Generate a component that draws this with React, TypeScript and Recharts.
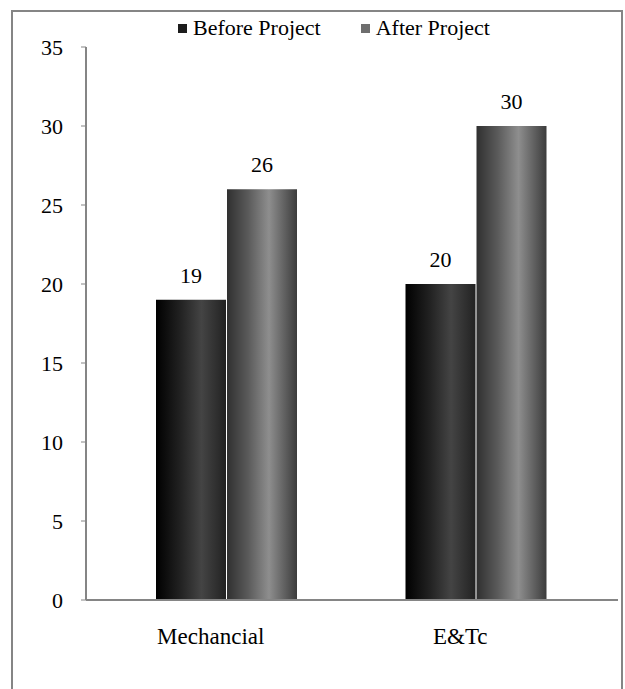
import React from 'react'
import { BarChart, Bar, XAxis, YAxis, Legend, LabelList } from 'recharts'

const categories = ['Mechancial', 'E&Tc']
const beforeProject = [19, 20]
const afterProject = [26, 30]
const yTicks = [0, 5, 10, 15, 20, 25, 30, 35]

const data = categories.map((name, i) => ({
  name,
  before: beforeProject[i],
  after: afterProject[i],
}))

const font = '"Liberation Serif", "Times New Roman", serif'

function LegendContent() {
  const items = [
    { label: 'Before Project', color: '#1c1c1c' },
    { label: 'After Project', color: '#6e6e6e' },
  ]
  return (
    <div style={{ display: 'flex', alignItems: 'center', fontFamily: font, fontSize: 22, color: '#000' }}>
      {items.map((it, i) => (
        <div key={it.label} style={{ display: 'flex', alignItems: 'center', marginRight: i === 0 ? 40 : 0 }}>
          <span style={{ display: 'inline-block', width: 9, height: 9, background: it.color, marginRight: 6 }} />
          <span>{it.label}</span>
        </div>
      ))}
    </div>
  )
}

export default function App() {
  return (
    <div style={{ position: 'absolute', left: 0, top: 0, width: 625, height: 689, background: '#fff', overflow: 'hidden' }}>
      <div
        style={{
          position: 'absolute',
          left: 11,
          top: 10,
          width: 608,
          height: 720,
          border: '2px solid #858585',
        }}
      />
      <div style={{ position: 'absolute', left: 0, top: 0 }}>
        <BarChart
          width={625}
          height={689}
          data={data}
          margin={{ top: 47, right: 7, left: 0, bottom: 0 }}
          barSize={70}
          barGap={1}
        >
          <defs>
            <linearGradient id="gBefore" x1="0" y1="0" x2="1" y2="0">
              <stop offset="0%" stopColor="#000000" />
              <stop offset="35%" stopColor="#222222" />
              <stop offset="65%" stopColor="#444444" />
              <stop offset="100%" stopColor="#222222" />
            </linearGradient>
            <linearGradient id="gAfter" x1="0" y1="0" x2="1" y2="0">
              <stop offset="0%" stopColor="#303030" />
              <stop offset="30%" stopColor="#5a5a5a" />
              <stop offset="60%" stopColor="#8e8e8e" />
              <stop offset="100%" stopColor="#3c3c3c" />
            </linearGradient>
          </defs>
          <Legend
            verticalAlign="middle"
            align="center"
            layout="horizontal"
            wrapperStyle={{ top: 15, left: 178, width: 340 }}
            content={<LegendContent />}
          />
          <XAxis
            dataKey="name"
            height={89}
            padding={{ left: 16, right: 17 }}
            tickLine={false}
            tickSize={0}
            tickMargin={28}
            axisLine={{ stroke: '#858585', strokeWidth: 2 }}
            tick={{ fill: '#000', fontSize: 23, fontFamily: font, dx: -16 }}
          />
          <YAxis
            width={86}
            domain={[0, 35]}
            ticks={yTicks}
            interval={0}
            tickSize={5}
            tickMargin={18}
            axisLine={{ stroke: '#858585', strokeWidth: 2 }}
            tickLine={{ stroke: '#858585' }}
            tick={{ fill: '#000', fontSize: 22, fontFamily: font }}
          />
          <Bar dataKey="before" name="Before Project" fill="url(#gBefore)" isAnimationActive={false}>
            <LabelList dataKey="before" position="top" offset={17} fill="#000" fontSize={22} fontFamily={font} />
          </Bar>
          <Bar dataKey="after" name="After Project" fill="url(#gAfter)" isAnimationActive={false}>
            <LabelList dataKey="after" position="top" offset={17} fill="#000" fontSize={22} fontFamily={font} />
          </Bar>
        </BarChart>
      </div>
    </div>
  )
}
